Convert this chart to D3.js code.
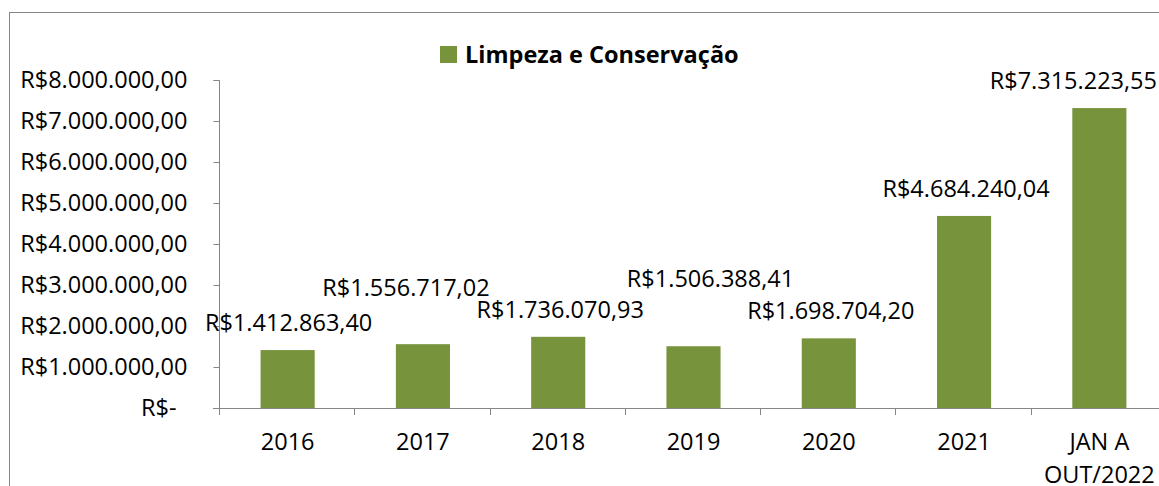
<!DOCTYPE html>
<html>
<head>
<meta charset="utf-8">
<script src="https://cdn.jsdelivr.net/npm/d3@7"></script>
<style>
  body { margin: 0; background: #fff; }
  text { font-family: "Open Sans", sans-serif; fill: #000; }
</style>
</head>
<body>
<script>
// data
var categories = ["2016", "2017", "2018", "2019", "2020", "2021", "JAN A|OUT/2022"];
var values = [1412863.40, 1556717.02, 1736070.93, 1506388.41, 1698704.20, 4684240.04, 7315223.55];
var yTicks = [0, 1e6, 2e6, 3e6, 4e6, 5e6, 6e6, 7e6, 8e6];
var seriesName = "Limpeza e Conservação";
// label nudges (moved by hand in the original)
var labelDx = [1, -17, 2, 17, 2, 2, -26];
var labelDy = [0, -29, 0, -40, 0, 0, 0];

var W = 1159, H = 486;
var green = "#77933C", grey = "#868686";
var fs = "23.5px";

var fmt = function(v) {
  if (v === 0) return "R$-";
  var s = v.toFixed(2).split(".");
  return "R$" + s[0].replace(/\B(?=(\d{3})+(?!\d))/g, ".") + "," + s[1];
};

var svg = d3.select("body").append("svg")
  .attr("width", W).attr("height", H);

// chart border (right/bottom run off the picture)
svg.append("rect")
  .attr("x", 9.5).attr("y", 12.5)
  .attr("width", 1200).attr("height", 600)
  .attr("fill", "none").attr("stroke", grey).attr("stroke-width", 1);

var x = d3.scaleBand().domain(categories)
  .range([220, 1167]).paddingInner(0.6).paddingOuter(0.3);
var y = d3.scaleLinear().domain([0, 8e6]).range([408, 80]);

// y axis
var yAxis = d3.axisLeft(y).tickValues(yTicks).tickFormat(fmt)
  .tickSize(6).tickPadding(26);
var gy = svg.append("g").attr("transform", "translate(219.5,0)").call(yAxis);
gy.select(".domain").attr("stroke", grey).attr("d", "M-6,408.5H0V80.5H-6");
gy.selectAll(".tick line").attr("stroke", grey);
gy.selectAll(".tick text").style("font-size", fs)
  .attr("dy", "0.3em")
  .attr("dx", function(d) { return d === 0 ? -11 : 0; });

// bars
svg.selectAll(".bar").data(values).enter().append("rect")
  .attr("class", "bar")
  .attr("x", function(d, i) { return x(categories[i]); })
  .attr("width", x.bandwidth())
  .attr("y", function(d) { return y(d); })
  .attr("height", function(d) { return y(0) - y(d); })
  .attr("fill", green);

// x axis line + boundary ticks
svg.append("line")
  .attr("x1", 213).attr("x2", 1167).attr("y1", 408.5).attr("y2", 408.5)
  .attr("stroke", grey);
var bounds = d3.range(categories.length + 1).map(function(i) { return 220 + i * x.step(); });
svg.selectAll(".xtick").data(bounds).enter().append("line")
  .attr("x1", function(d) { return Math.round(d) - 0.5; })
  .attr("x2", function(d) { return Math.round(d) - 0.5; })
  .attr("y1", 408).attr("y2", 415)
  .attr("stroke", grey);

// x labels
var xl = svg.selectAll(".xlab").data(categories).enter().append("text")
  .attr("class", "xlab")
  .attr("text-anchor", "middle")
  .style("font-size", fs)
  .attr("transform", function(d) { return "translate(" + (x(d) + x.bandwidth() / 2) + ",450)"; });
xl.each(function(d) {
  var t = d3.select(this);
  d.split("|").forEach(function(line, k) {
    t.append("tspan").attr("x", 0).attr("y", k * 33).text(line);
  });
});

// data labels
svg.selectAll(".vlab").data(values).enter().append("text")
  .attr("class", "vlab")
  .attr("text-anchor", "middle")
  .style("font-size", fs)
  .attr("x", function(d, i) { return x(categories[i]) + x.bandwidth() / 2 + labelDx[i]; })
  .attr("y", function(d, i) { return y(d) - 19 + labelDy[i]; })
  .text(fmt);

// legend
svg.append("rect").attr("x", 440).attr("y", 46).attr("width", 17).attr("height", 17)
  .attr("fill", green);
svg.append("text").attr("x", 465).attr("y", 63)
  .style("font-size", "23.5px").style("font-weight", "bold")
  .text(seriesName);
</script>
</body>
</html>
